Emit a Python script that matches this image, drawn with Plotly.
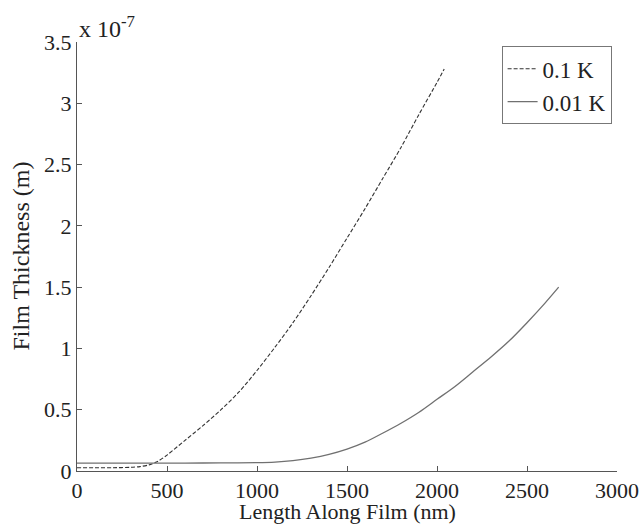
import plotly.graph_objects as go

# Film thickness in units of 1e-7 m, position in nm
x_01K = [0, 100, 200, 300, 350, 400, 450, 500, 600, 700, 800, 900, 1000, 1100, 1200, 1300, 1400, 1500, 1600, 1700, 1800, 1900, 2000, 2040]
y_01K = [0.027, 0.027, 0.027, 0.03, 0.036, 0.05, 0.08, 0.13, 0.25, 0.37, 0.50, 0.645, 0.82, 1.01, 1.21, 1.43, 1.66, 1.90, 2.14, 2.39, 2.64, 2.91, 3.17, 3.28]

x_001K = [0, 200, 400, 600, 800, 1000, 1100, 1200, 1300, 1400, 1500, 1600, 1700, 1800, 1900, 2000, 2100, 2200, 2300, 2400, 2500, 2600, 2676]
y_001K = [0.065, 0.065, 0.065, 0.065, 0.066, 0.068, 0.073, 0.085, 0.105, 0.135, 0.178, 0.235, 0.31, 0.39, 0.48, 0.585, 0.69, 0.81, 0.93, 1.06, 1.21, 1.37, 1.50]

x_ticks = [0, 500, 1000, 1500, 2000, 2500, 3000]
y_ticks = [0, 0.5, 1, 1.5, 2, 2.5, 3, 3.5]
y_tick_labels = ["0", "0.5", "1", "1.5", "2", "2.5", "3", "3.5"]

FONT = "Liberation Serif"
FS = 24
TFS = 22

fig = go.Figure()
fig.add_trace(go.Scatter(x=x_01K, y=y_01K, mode="lines", name="0.1 K",
                         line=dict(color="#333333", width=1.1, dash="4px,2px",
                                   shape="spline", smoothing=0.8)))
fig.add_trace(go.Scatter(x=x_001K, y=y_001K, mode="lines", name="0.01 K",
                         line=dict(color="#707070", width=1.3,
                                   shape="spline", smoothing=0.8)))

fig.update_layout(
    width=644, height=524,
    margin=dict(l=77, r=27, t=42, b=53),
    paper_bgcolor="white", plot_bgcolor="white",
    font=dict(family=FONT, size=FS, color="#222222"),
    showlegend=True,
    legend=dict(x=0.99, y=0.99, xanchor="right", yanchor="top",
                bordercolor="#777777", borderwidth=1, bgcolor="white",
                font=dict(family=FONT, size=23, color="#222222"),
                tracegroupgap=0, itemwidth=30),
    xaxis=dict(range=[0, 3000], tickvals=x_ticks, ticks="inside", ticklen=5,
               tickcolor="#555555", showline=True, linecolor="#555555", linewidth=1,
               showgrid=False, zeroline=False, automargin=False,
               tickfont=dict(family=FONT, size=TFS)),
    yaxis=dict(range=[0, 3.5], tickvals=y_ticks, ticktext=y_tick_labels,
               ticks="inside", ticklen=5, tickcolor="#555555",
               showline=True, linecolor="#555555", linewidth=1,
               showgrid=False, zeroline=False, automargin=False,
               tickfont=dict(family=FONT, size=TFS)),
)

# axis titles placed as paper-anchored texts
fig.add_annotation(x=0.5, y=0, xref="paper", yref="paper", xanchor="center", yanchor="middle",
                   text="Length Along Film (nm)", showarrow=False, yshift=-40, borderpad=0,
                   font=dict(family=FONT, size=22, color="#222222"))
fig.add_annotation(x=0, y=0.5, xref="paper", yref="paper", xanchor="right", yanchor="middle",
                   text="Film Thickness (m)", showarrow=False, xshift=-42, textangle=-90,
                   font=dict(family=FONT, size=FS, color="#222222"))
fig.add_annotation(x=0, y=1, xref="paper", yref="paper", xanchor="left", yanchor="bottom",
                   text="x 10<sup>-7</sup>", showarrow=False, xshift=0, yshift=-2,
                   font=dict(family=FONT, size=FS, color="#222222"))

fig.write_html("out.html")
